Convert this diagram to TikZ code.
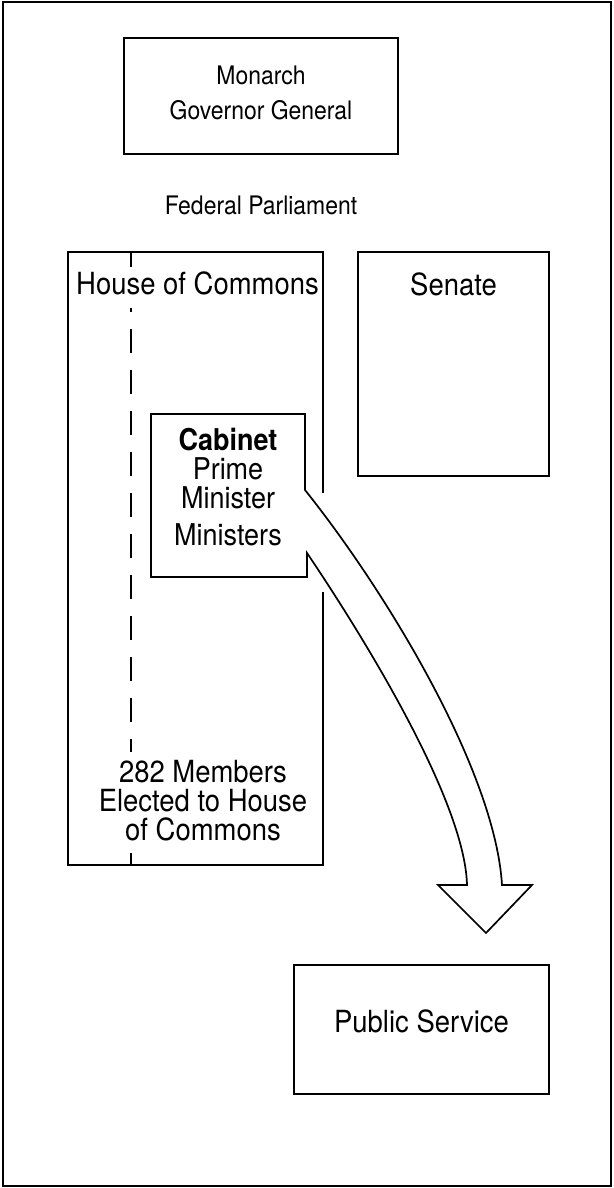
\documentclass[tikz,border=0pt]{standalone}
\usepackage{fontspec}
\setmainfont[FakeStretch=0.9]{TeX Gyre Heros}
\begin{document}
\begin{tikzpicture}[x=1pt,y=-1pt,line join=miter]
\tikzset{
  box/.style={draw, line width=1.7pt, inner sep=0pt},
  bigtext/.style={font=\fontsize{30.5}{29}\selectfont},
  midtext/.style={font=\fontsize{25.5}{35}\selectfont},
  divider/.style={line width=1.5pt},
}
\useasboundingbox (0,0) rectangle (613,1188);
% outer frame
\draw[line width=1.8pt] (3,2) rectangle (611,1186);

% Monarch
\node[box, minimum width=274pt, minimum height=116pt] (monarch) at (261,96) {};
\node[midtext, align=center] (monarchtext) at (261,93) {Monarch\\Governor General};

\node[midtext] (fp) at (261,205) {Federal Parliament};

% House of Commons (outline with a gap for the arrow)
\node[inner sep=0pt, minimum width=255pt, minimum height=613pt] (hoc) at (195.5,558.5) {};
\draw[box] (hoc.east |- 0,493) -- (hoc.north east) -- (hoc.north west) -- (hoc.south west) -- (hoc.south east) -- (hoc.east |- 0,592);
\node[bigtext] (hoctitle) at (197.5,283) {House of Commons};
\node[bigtext, align=center] (members) at (203,801) {282 Members\\Elected to House\\of Commons};

% dashed divider
\draw[divider] (131,252) -- (131,267);
\draw[divider, dash pattern=on 24pt off 17pt, dash phase=20pt] (131,308) -- (131,752);
\draw[divider] (131,853) -- (131,865);

% Senate
\node[box, bigtext, minimum width=191pt, text height=43pt, text depth=181pt] (senate) at (453.5,364) {Senate};

% Cabinet with curved arrow
\draw[line width=1.7pt, fill=white] (305,490) -- (305,414) -- (151,414) -- (151,577) -- (307,577) -- (307,553)
  .. controls (361,633) and (465,800) .. (467,885) -- (438,885) -- (486,933) -- (532,885) -- (502,885)
  .. controls (495,770) and (385,590) .. (305,490) -- cycle;
\node[font=\fontsize{30}{29}\selectfont, align=center] (cabinet) at (228,487) {\textbf{Cabinet}\\Prime\\Minister\\[8pt]Ministers};

% Public Service
\node[box, bigtext, minimum width=255pt, text height=67pt, text depth=62pt] (ps) at (421.5,1029.5) {Public Service};
\end{tikzpicture}
\end{document}
